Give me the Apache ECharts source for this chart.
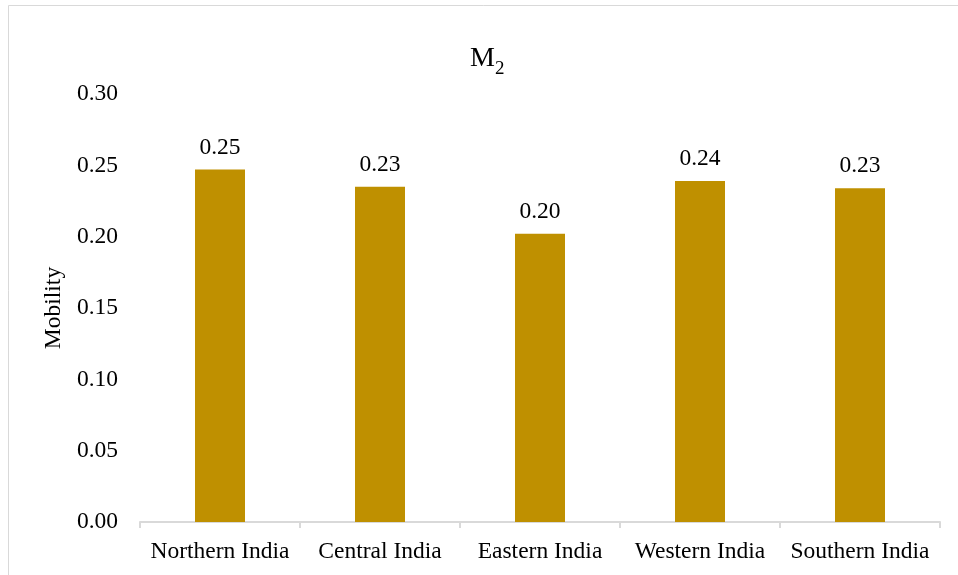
<!DOCTYPE html>
<html>
<head>
<meta charset="utf-8">
<script src="https://cdn.jsdelivr.net/npm/echarts@6/dist/echarts.min.js"></script>
<style>
  html, body { margin: 0; padding: 0; background: #fff; }
  #chart { width: 958px; height: 575px; }
</style>
</head>
<body>
<div id="chart"></div>
<script>
// Regions and their mobility values
const regions = ['Northern India', 'Central India', 'Eastern India', 'Western India', 'Southern India'];
const mobility = [0.247, 0.235, 0.202, 0.239, 0.234];
const yTicks = { min: 0, max: 0.30, step: 0.05 };

const FONT = '"Liberation Serif", "Times New Roman", serif';
const FS = 23.5;
const chart = echarts.init(document.getElementById('chart'));

chart.setOption({
  animation: false,
  backgroundColor: '#ffffff',
  graphic: [{
    type: 'rect',
    shape: { x: 8.5, y: 5.5, width: 1000, height: 1000 },
    style: { fill: 'none', stroke: '#d9d9d9', lineWidth: 1 },
    silent: true
  }],
  title: {
    text: '{m|M}{s|2}',
    left: 465,
    top: 40,
    textStyle: {
      fontWeight: 'normal',
      rich: {
        m: { fontFamily: FONT, fontSize: 28, fontWeight: 'normal', color: '#000', verticalAlign: 'bottom', padding: [0, 0, 6, 0] },
        s: { fontFamily: FONT, fontSize: 19, fontWeight: 'normal', color: '#000', verticalAlign: 'bottom' }
      }
    }
  },
  grid: { left: 140, right: 18, top: 94, bottom: 53 },
  xAxis: {
    type: 'category',
    data: regions,
    axisLine: { lineStyle: { color: '#d9d9d9', width: 2 } },
    axisTick: { show: true, interval: 0, length: 6, lineStyle: { color: '#d9d9d9', width: 2 } },
    axisLabel: { interval: 0, fontFamily: FONT, fontSize: FS, color: '#000', margin: 18 }
  },
  yAxis: {
    type: 'value',
    min: yTicks.min,
    max: yTicks.max,
    interval: yTicks.step,
    name: 'Mobility',
    nameLocation: 'middle',
    nameGap: 67,
    nameTextStyle: { fontFamily: FONT, fontSize: FS, color: '#000' },
    axisLine: { show: false },
    axisTick: { show: false },
    splitLine: { show: false },
    axisLabel: {
      fontFamily: FONT, fontSize: FS, color: '#000', margin: 22,
      formatter: v => v.toFixed(2)
    }
  },
  series: [{
    type: 'bar',
    data: mobility,
    barWidth: 50,
    itemStyle: { color: '#bf9000' },
    label: {
      show: true,
      position: 'top',
      distance: 10,
      fontFamily: FONT,
      fontSize: FS,
      color: '#000',
      formatter: p => p.value.toFixed(2)
    }
  }]
});
</script>
</body>
</html>
